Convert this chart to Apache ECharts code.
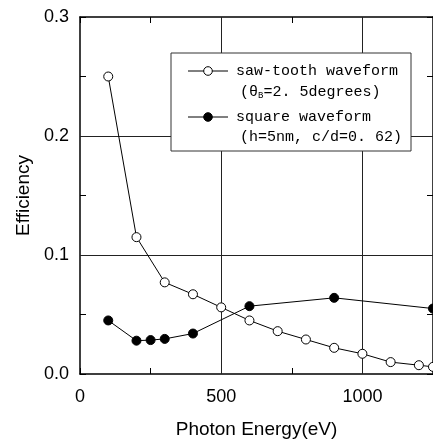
<!DOCTYPE html>
<html><head><meta charset="utf-8">
<script src="https://cdn.jsdelivr.net/npm/echarts@6/dist/echarts.min.js"></script>
<style>html,body{margin:0;padding:0;background:#fff;overflow:hidden}#c{width:433px;height:444px}</style>
</head><body><div id="c"></div>
<script>
const energies = [100, 200, 300, 400, 500, 600, 700, 800, 900, 1000, 1100, 1200, 1250];
const sawTooth = [0.250, 0.115, 0.077, 0.067, 0.056, 0.045, 0.036, 0.029, 0.022, 0.017, 0.010, 0.0074, 0.006];
const squareE = [100, 200, 250, 300, 400, 600, 900, 1250];
const squareV = [0.045, 0.028, 0.0285, 0.0295, 0.034, 0.057, 0.064, 0.055];
const xTicks = [0, 500, 1000];
const yTicks = [0.0, 0.1, 0.2, 0.3];
const xGrid = [500, 1000];
const yGrid = [0.1, 0.2];
const legendNames = ['saw-tooth waveform', 'square waveform'];

const chart = echarts.init(document.getElementById('c'));
const ff = '"Liberation Sans", Arial, sans-serif';
const mono = '"Liberation Mono", "DejaVu Sans Mono", monospace';
const axisLine = {show: true, onZero: false, lineStyle: {color: '#000', width: 1.5}};
const tick = {show: true, inside: true, length: 6, lineStyle: {color: '#000', width: 1}};
const near = (a, b) => Math.abs(a - b) < 1e-9;

function legendIcon(y, filled) {
  return [
    {type: 'line', z: 100, shape: {x1: 188, y1: y, x2: 228, y2: y}, style: {stroke: '#000', lineWidth: 1}},
    {type: 'circle', z: 101, shape: {cx: 208, cy: y, r: 4.3}, style: {fill: filled ? '#000' : '#fff', stroke: '#000', lineWidth: 1}}
  ];
}

const xBase = {type: 'value', min: 0, max: 1250, interval: 250, axisLine: axisLine, axisTick: tick, splitLine: {show: false}};
const yBase = {type: 'value', min: 0, max: 0.3, interval: 0.05, axisLine: axisLine, axisTick: tick, splitLine: {show: false}};

chart.setOption({
  animation: false,
  grid: {left: 80, right: -4, top: 17, bottom: 64},
  xAxis: [
    Object.assign({}, xBase, {position: 'bottom',
     axisLabel: {color: '#000', fontFamily: ff, fontSize: 18, margin: 14, showMaxLabel: false,
       formatter: v => xTicks.some(t => near(t, v)) ? String(v) : ''},
     name: 'Photon Energy(eV)', nameLocation: 'middle', nameGap: 46,
     nameTextStyle: {color: '#000', fontFamily: ff, fontSize: 19}}),
    Object.assign({}, xBase, {position: 'top', axisLabel: {show: false}})
  ],
  yAxis: [
    Object.assign({}, yBase, {position: 'left',
     axisLabel: {color: '#000', fontFamily: ff, fontSize: 18, margin: 11,
       formatter: v => { const t = yTicks.find(k => near(k, v)); return t === undefined ? '' : t.toFixed(1); }},
     name: 'Efficiency', nameLocation: 'middle', nameGap: 46, nameRotate: 90,
     nameTextStyle: {color: '#000', fontFamily: ff, fontSize: 19}}),
    Object.assign({}, yBase, {position: 'right', axisLabel: {show: false}})
  ],
  series: [
    {name: legendNames[0], type: 'line', xAxisIndex: 0, yAxisIndex: 0,
     data: energies.map((e, i) => [e, sawTooth[i]]),
     symbol: 'circle', symbolSize: 9, showAllSymbol: true,
     lineStyle: {color: '#000', width: 1},
     itemStyle: {color: '#fff', borderColor: '#000', borderWidth: 1}, z: 3,
     markLine: {silent: true, symbol: 'none', animation: false, z: 1,
       label: {show: false}, lineStyle: {color: '#222', width: 1, type: 'solid'},
       emphasis: {disabled: true},
       data: xGrid.map(v => ({xAxis: v})).concat(yGrid.map(v => ({yAxis: v})))}},
    {name: legendNames[1], type: 'line', xAxisIndex: 0, yAxisIndex: 0,
     data: squareE.map((e, i) => [e, squareV[i]]),
     symbol: 'circle', symbolSize: 9, showAllSymbol: true,
     lineStyle: {color: '#000', width: 1},
     itemStyle: {color: '#000', borderColor: '#000', borderWidth: 1}, z: 3}
  ],
  graphic: [
    {type: 'rect', z: 99, shape: {x: 171, y: 53, width: 240, height: 98},
     style: {fill: '#fff', stroke: '#333', lineWidth: 1}},
    ...legendIcon(71, false),
    {type: 'text', z: 100, x: 236, y: 71, style: {text: legendNames[0], font: '15px ' + mono, fill: '#000', verticalAlign: 'middle'}},
    {type: 'text', z: 100, x: 240, y: 92, style: {
      text: '{a|(θ}{s|B}{a|=2. 5degrees)}', fill: '#000', verticalAlign: 'middle',
      rich: {a: {fontFamily: mono, fontSize: 15, fill: '#000'},
             s: {fontFamily: mono, fontSize: 9, fill: '#000', verticalAlign: 'bottom', padding: [7, 0, 0, 0]}}}},
    ...legendIcon(117, true),
    {type: 'text', z: 100, x: 236, y: 117, style: {text: legendNames[1], font: '15px ' + mono, fill: '#000', verticalAlign: 'middle'}},
    {type: 'text', z: 100, x: 240, y: 137, style: {text: '(h=5nm, c/d=0. 62)', font: '15px ' + mono, fill: '#000', verticalAlign: 'middle'}}
  ]
});
</script></body></html>
